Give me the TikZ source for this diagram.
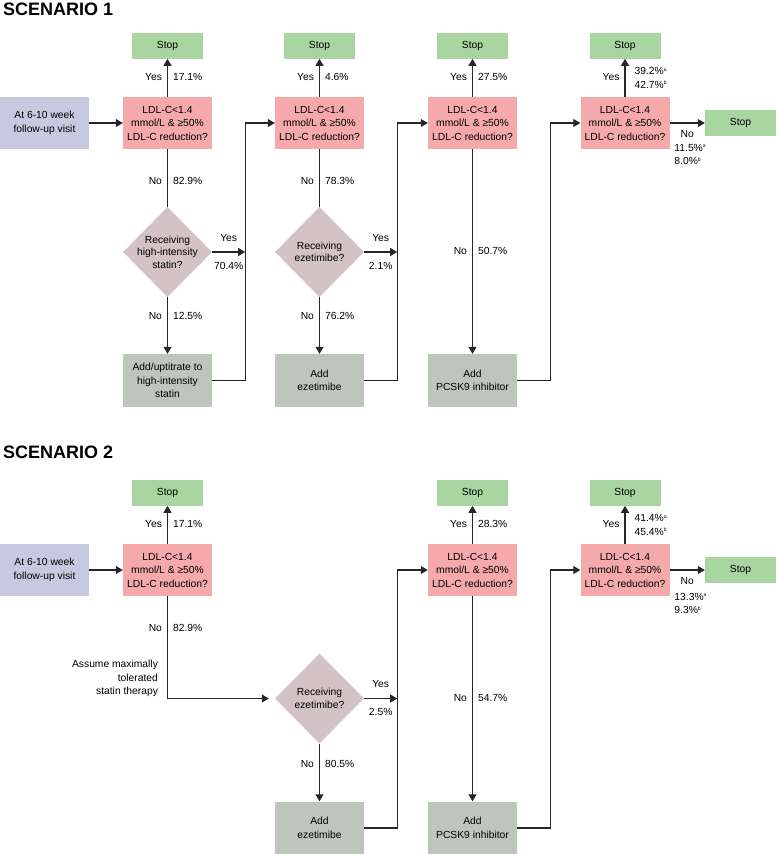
\documentclass[tikz,border=0pt]{standalone}
\usepackage{fontspec}
\setmainfont{Liberation Sans}
\usepackage{xcolor}
\definecolor{StopGreen}{HTML}{A8D5A0}
\definecolor{CheckPink}{HTML}{F5A9AB}
\definecolor{VisitLilac}{HTML}{C8C8E0}
\definecolor{AskMauve}{HTML}{D3C3C6}
\definecolor{AddSage}{HTML}{BCC6BA}
\definecolor{FlowInk}{HTML}{262626}
\usepackage{tikz}
\usetikzlibrary{arrows.meta,positioning,shapes.geometric}
\newcommand{\flowfont}{\fontsize{10.3}{13.5}\selectfont}
\newcommand{\ldlcheck}{LDL-C<1.4\\mmol/L \& ≥50\%\\LDL-C reduction?}
\newcommand{\pctnote}[1]{\raisebox{3.5pt}{\fontsize{5}{5}\selectfont #1}}
\tikzset{
  scenario/.style={
    anchor=base west,
    inner sep=0pt,
    font=\fontsize{18}{20}\selectfont\bfseries
  },
  stopbox/.style={
    fill=StopGreen,
    minimum width=71pt,
    minimum height=26pt,
    inner sep=0pt,
    font=\flowfont
  },
  checkbox/.style={
    fill=CheckPink,
    minimum width=89pt,
    minimum height=52pt,
    align=center,
    inner sep=0pt,
    font=\flowfont
  },
  visitbox/.style={
    checkbox,
    fill=VisitLilac
  },
  addbox/.style={
    checkbox,
    fill=AddSage,
    minimum height=53pt
  },
  askbox/.style={
    diamond,
    fill=AskMauve,
    minimum width=89pt,
    minimum height=90pt,
    inner sep=0pt
  },
  asktext/.style={
    align=center,
    inner sep=0pt,
    font=\fontsize{10.3}{12.5}\selectfont
  },
  lbltext/.style={
    inner sep=0pt,
    font=\flowfont,
    text height=7.5pt,
    text depth=2.2pt
  },
  leftlbl/.style={lbltext, left=5pt},
  rightlbl/.style={lbltext, right=5pt},
  abovelbl/.style={lbltext, above=8pt},
  belowlbl/.style={lbltext, below=9pt},
  pctstack/.style={
    inner sep=0pt,
    align=left,
    font=\flowfont
  },
  assume/.style={
    anchor=south east,
    align=right,
    inner sep=0pt,
    font=\flowfont,
    xshift=-9pt,
    yshift=1pt
  },
  flowline/.style={
    draw=FlowInk,
    line width=1.1pt
  },
  flowarrow/.style={
    flowline,
    -{Triangle[length=7pt,width=8pt]}
  }
}

\begin{document}
\begin{tikzpicture}[x=1pt,y=-1pt]
  \useasboundingbox (0,0) rectangle (776,854);
  \node[scenario] (title1) at (3,15) {SCENARIO 1};
  \node[visitbox] (visit1) at (44.5,123) {At 6-10 week\\follow-up visit};
  \node[checkbox] (ldl11) at (167.5,123) {\ldlcheck};
  \node[askbox, label={[asktext]center:{Receiving\\high-intensity\\statin?}}] (hi1) at (167.5,252) {};
  \node[addbox] (uptit1) at (167.5,380.5) {Add/uptitrate to\\high-intensity\\statin};
  \node[checkbox] (ldl12) at (319.5,123) {\ldlcheck};
  \node[askbox, label={[asktext]center:{Receiving\\ezetimibe?}}] (eze1) at (319.5,252) {};
  \node[addbox] (addeze1) at (319.5,380.5) {Add\\ezetimibe};
  \node[checkbox] (ldl13) at (472.5,123) {\ldlcheck};
  \node[addbox] (pcsk1) at (472.5,380.5) {Add\\PCSK9 inhibitor};
  \node[checkbox] (ldl14) at (625,123) {\ldlcheck};
  \node[stopbox] (stopend1) at (740.5,123) {Stop};

  \node[scenario] (title2) at (3,458) {SCENARIO 2};
  \node[visitbox] (visit2) at (44.5,570) {At 6-10 week\\follow-up visit};
  \node[checkbox] (ldl21) at (167.5,570) {\ldlcheck};
  \node[askbox, label={[asktext]center:{Receiving\\ezetimibe?}}] (eze2) at (319.5,698.5) {};
  \node[addbox] (addeze2) at (319.5,828) {Add\\ezetimibe};
  \node[checkbox] (ldl23) at (472.5,570) {\ldlcheck};
  \node[addbox] (pcsk2) at (472.5,828) {Add\\PCSK9 inhibitor};
  \node[checkbox] (ldl24) at (625,570) {\ldlcheck};
  \node[stopbox] (stopend2) at (740.5,570) {Stop};

  \foreach \n in {11,12,13,14,21,23,24}{\node[stopbox, above=38pt of ldl\n] (stop\n) {Stop};}

  \coordinate (ret1) at ([xshift=33pt]uptit1.east);
  \coordinate (ret2) at ([xshift=33pt]addeze1.east);
  \coordinate (ret3) at ([xshift=33pt]pcsk1.east);
  \coordinate (ret5) at ([xshift=33pt]addeze2.east);
  \coordinate (ret6) at ([xshift=33pt]pcsk2.east);

  \draw[flowarrow] (visit1) -- (ldl11);
  \draw[flowarrow] (ldl11) -- node[leftlbl] (y11) {Yes} node[rightlbl] (p11) {17.1\%} (stop11);
  \draw[flowline] (ldl11) -- node[pos=0.57,leftlbl] (n11) {No} node[pos=0.57,rightlbl] (q11) {82.9\%} (hi1);
  \draw[flowarrow] (hi1) -- node[pos=0.35,leftlbl] (nhi1) {No} node[pos=0.35,rightlbl] (qhi1) {12.5\%} (uptit1);
  \draw[flowarrow] (hi1.east) -- node[abovelbl] (yhi1) {Yes} node[belowlbl] (phi1) {70.4\%} (hi1.east -| ret1);
  \draw[flowarrow] (uptit1.east) -- (ret1) |- (ldl12.west);
  \draw[flowarrow] (ldl12) -- node[leftlbl] (y12) {Yes} node[rightlbl] (p12) {4.6\%} (stop12);
  \draw[flowline] (ldl12) -- node[pos=0.57,leftlbl] (n12) {No} node[pos=0.57,rightlbl] (q12) {78.3\%} (eze1);
  \draw[flowarrow] (eze1) -- node[pos=0.35,leftlbl] (neze1) {No} node[pos=0.35,rightlbl] (qeze1) {76.2\%} (addeze1);
  \draw[flowarrow] (eze1.east) -- node[abovelbl] (yeze1) {Yes} node[belowlbl] (peze1) {2.1\%} (eze1.east -| ret2);
  \draw[flowarrow] (addeze1.east) -- (ret2) |- (ldl13.west);
  \draw[flowarrow] (ldl13) -- node[leftlbl] (y13) {Yes} node[rightlbl] (p13) {27.5\%} (stop13);
  \draw[flowarrow] (ldl13) -- node[leftlbl] (n13) {No} node[rightlbl] (q13) {50.7\%} (pcsk1);
  \draw[flowarrow] (pcsk1.east) -- (ret3) |- (ldl14.west);
  \draw[flowarrow] (ldl14) -- node[leftlbl] (y14) {Yes} node[pctstack, right=9pt] (p14) {39.2\%\pctnote{a}\\42.7\%\pctnote{b}} (stop14);
  \draw[flowarrow] (ldl14) -- node[lbltext, below=6pt] (n14) {No} (stopend1);
  \node[pctstack, anchor=north west] (q14) at ([xshift=-13pt,yshift=-4pt]n14.south) {11.5\%\pctnote{a}\\8.0\%\pctnote{b}};

  \draw[flowarrow] (visit2) -- (ldl21);
  \draw[flowarrow] (ldl21) -- node[leftlbl] (y21) {Yes} node[rightlbl] (p21) {17.1\%} (stop21);
  \draw[flowarrow, shorten >=6pt] (ldl21) |- node[pos=0.16,leftlbl] (n21) {No} node[pos=0.16,rightlbl] (q21) {82.9\%} node[pos=0.5,assume] (mts2) {Assume maximally\\tolerated\\statin therapy} (eze2);
  \draw[flowarrow] (eze2) -- node[pos=0.37,leftlbl] (neze2) {No} node[pos=0.37,rightlbl] (qeze2) {80.5\%} (addeze2);
  \draw[flowarrow] (eze2.east) -- node[abovelbl] (yeze2) {Yes} node[belowlbl] (peze2) {2.5\%} (eze2.east -| ret5);
  \draw[flowarrow] (addeze2.east) -- (ret5) |- (ldl23.west);
  \draw[flowarrow] (ldl23) -- node[leftlbl] (y23) {Yes} node[rightlbl] (p23) {28.3\%} (stop23);
  \draw[flowarrow] (ldl23) -- node[leftlbl] (n23) {No} node[rightlbl] (q23) {54.7\%} (pcsk2);
  \draw[flowarrow] (pcsk2.east) -- (ret6) |- (ldl24.west);
  \draw[flowarrow] (ldl24) -- node[leftlbl] (y24) {Yes} node[pctstack, right=9pt] (p24) {41.4\%\pctnote{a}\\45.4\%\pctnote{b}} (stop24);
  \draw[flowarrow] (ldl24) -- node[lbltext, below=6pt] (n24) {No} (stopend2);
  \node[pctstack, anchor=north west] (q24) at ([xshift=-13pt,yshift=-6pt]n24.south) {13.3\%\pctnote{a}\\9.3\%\pctnote{b}};
\end{tikzpicture}
\end{document}
